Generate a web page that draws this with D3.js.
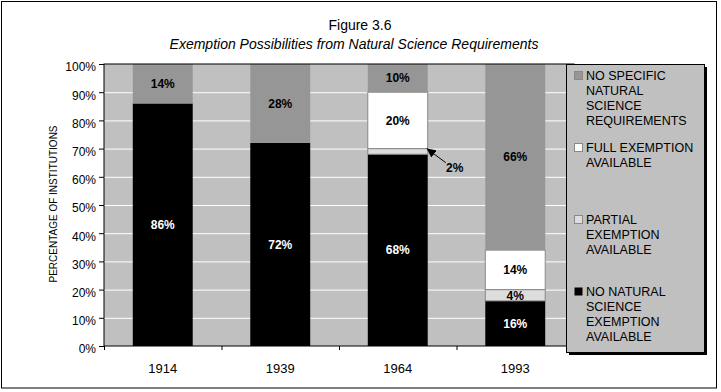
<!DOCTYPE html>
<html>
<head>
<meta charset="utf-8">
<script src="https://cdn.jsdelivr.net/npm/d3@7"></script>
<style>
  body { margin: 0; background: #fff; }
  text { font-family: "Liberation Sans", Arial, sans-serif; }
</style>
</head>
<body>
<div id="container"></div>
<script>
// Chart data
var years = ["1914", "1939", "1964", "1993"];
var noExemption = [0.86, 0.72, 0.68, 0.16];   // NO NATURAL SCIENCE EXEMPTION AVAILABLE
var partialExemption = [0, 0, 0.02, 0.04];    // PARTIAL EXEMPTION AVAILABLE
var fullExemption = [0, 0, 0.20, 0.14];       // FULL EXEMPTION AVAILABLE
var noSpecific = [0.14, 0.28, 0.10, 0.66];    // NO SPECIFIC NATURAL SCIENCE REQUIREMENTS
var yTicks = [0, 0.1, 0.2, 0.3, 0.4, 0.5, 0.6, 0.7, 0.8, 0.9, 1.0];

// stacking order, bottom to top
var series = [
  { key: "none", values: noExemption, fill: "#000000", stroke: "none", text: "#ffffff",
    label: ["NO NATURAL", "SCIENCE", "EXEMPTION", "AVAILABLE"] },
  { key: "partial", values: partialExemption, fill: "#dddddd", stroke: "#888888", text: "#000000",
    label: ["PARTIAL", "EXEMPTION", "AVAILABLE"] },
  { key: "full", values: fullExemption, fill: "#ffffff", stroke: "#888888", text: "#000000",
    label: ["FULL EXEMPTION", "AVAILABLE"] },
  { key: "nospec", values: noSpecific, fill: "#969696", stroke: "none", text: "#000000",
    label: ["NO SPECIFIC", "NATURAL", "SCIENCE", "REQUIREMENTS"] }
];

var width = 721, height = 392;
var plot = { left: 104, right: 574, top: 64, bottom: 346 };

var svg = d3.select("#container").append("svg")
  .attr("width", width)
  .attr("height", height);

svg.append("defs").append("marker")
  .attr("id", "arrow")
  .attr("viewBox", "0 0 10 10")
  .attr("refX", 10).attr("refY", 5)
  .attr("markerWidth", 9).attr("markerHeight", 9)
  .attr("markerUnits", "userSpaceOnUse")
  .attr("orient", "auto")
  .append("path")
  .attr("d", "M0,0 L10,5 L0,10 z")
  .attr("fill", "#000");

// outer frame
svg.append("rect")
  .attr("x", 1.5).attr("y", 1.5)
  .attr("width", 715).attr("height", 386.5)
  .attr("fill", "#fff").attr("stroke", "#000");

var x = d3.scaleBand().domain(years).range([plot.left, plot.right]).padding(0);
var y = d3.scaleLinear().domain([0, 1]).range([plot.bottom, plot.top]);
var barWidth = x.bandwidth() * 0.51;

// plot background
svg.append("rect")
  .attr("x", plot.left).attr("y", plot.top)
  .attr("width", plot.right - plot.left).attr("height", plot.bottom - plot.top)
  .attr("fill", "#c0c0c0");

// gridlines
svg.append("g").selectAll("line")
  .data(yTicks.slice(1, -1))
  .enter().append("line")
  .attr("x1", plot.left).attr("x2", plot.right)
  .attr("y1", function(d) { return y(d) + 0.5; })
  .attr("y2", function(d) { return y(d) + 0.5; })
  .attr("stroke", "#fff");

// build stacked segments
var segments = [];
years.forEach(function(yr, i) {
  var base = 0;
  series.forEach(function(s) {
    var v = s.values[i];
    if (v > 0) {
      segments.push({ year: yr, series: s, v0: base, v1: base + v, value: v, id: "seg" + i + s.key });
    }
    base += v;
  });
});

var bars = svg.append("g");
bars.selectAll("rect")
  .data(segments)
  .enter().append("rect")
  .attr("x", function(d) { return x(d.year) + (x.bandwidth() - barWidth) / 2; })
  .attr("y", function(d) { return y(d.v1); })
  .attr("width", barWidth)
  .attr("height", function(d) { return y(d.v0) - y(d.v1); })
  .attr("fill", function(d) { return d.series.fill; })
  .attr("stroke", function(d) { return d.series.stroke; });

// clip paths so labels stay inside their segment
var clips = svg.select("defs").selectAll("clipPath")
  .data(segments)
  .enter().append("clipPath")
  .attr("id", function(d) { return d.id; })
  .append("rect")
  .attr("x", function(d) { return x(d.year) + (x.bandwidth() - barWidth) / 2; })
  .attr("y", function(d) { return y(d.v1); })
  .attr("width", barWidth)
  .attr("height", function(d) { return y(d.v0) - y(d.v1); });

var fmt = d3.format(".0%");

svg.append("g").selectAll("text")
  .data(segments.filter(function(d) { return d.value >= 0.03; }))
  .enter().append("text")
  .attr("clip-path", function(d) { return "url(#" + d.id + ")"; })
  .attr("x", function(d) { return x(d.year) + x.bandwidth() / 2; })
  .attr("y", function(d) { return (y(d.v0) + y(d.v1)) / 2; })
  .attr("dy", "0.36em")
  .attr("text-anchor", "middle")
  .attr("font-size", "12px")
  .attr("font-weight", "bold")
  .attr("fill", function(d) { return d.series.text; })
  .text(function(d) { return fmt(d.value); });

// small segments get a pointer label beside the bar
segments.filter(function(d) { return d.value < 0.03; }).forEach(function(d) {
  var tipX = x(d.year) + (x.bandwidth() + barWidth) / 2 - 1;
  var tipY = y(d.v1);
  svg.append("line")
    .attr("x1", tipX + 19).attr("y1", tipY + 14)
    .attr("x2", tipX).attr("y2", tipY)
    .attr("stroke", "#000")
    .attr("marker-end", "url(#arrow)");
  svg.append("text")
    .attr("x", tipX + 28).attr("y", tipY + 23)
    .attr("text-anchor", "middle")
    .attr("font-size", "12px")
    .attr("font-weight", "bold")
    .text(fmt(d.value));
});

// plot frame
svg.append("rect")
  .attr("x", plot.left).attr("y", plot.top)
  .attr("width", plot.right - plot.left).attr("height", plot.bottom - plot.top)
  .attr("fill", "none").attr("stroke", "#000");

// y axis
var yAxis = svg.append("g")
  .attr("transform", "translate(" + plot.left + ",0)")
  .call(d3.axisLeft(y).tickValues(yTicks).tickFormat(fmt).tickSize(5).tickPadding(3));
yAxis.select(".domain").remove();
yAxis.selectAll("text")
  .attr("dy", "0.58em")
  .attr("font-size", "12px")
  .attr("font-family", "Liberation Sans, Arial, sans-serif")
  .attr("fill", "#000");

// x axis: labels centred, ticks on category boundaries
var xAxis = svg.append("g")
  .attr("transform", "translate(0," + plot.bottom + ")")
  .call(d3.axisBottom(x).tickSize(0).tickPadding(18));
xAxis.select(".domain").remove();
xAxis.selectAll("text")
  .attr("font-size", "13px")
  .attr("font-family", "Liberation Sans, Arial, sans-serif")
  .attr("fill", "#000");
var bounds = years.map(function(d) { return x(d); }).concat([plot.right]);
xAxis.selectAll(".bound")
  .data(bounds)
  .enter().append("line")
  .attr("class", "bound")
  .attr("x1", function(d) { return d + 0.5; })
  .attr("x2", function(d) { return d + 0.5; })
  .attr("y1", 0).attr("y2", 4)
  .attr("stroke", "#000");

// y axis title
svg.append("text")
  .attr("transform", "translate(57,204) rotate(-90)")
  .attr("text-anchor", "middle")
  .attr("font-size", "10px")
  .attr("fill", "#000")
  .text("PERCENTAGE OF INSTITUTIONS");

// titles
svg.append("text")
  .attr("x", 360).attr("y", 30)
  .attr("text-anchor", "middle")
  .attr("font-size", "14px")
  .text("Figure 3.6");
svg.append("text")
  .attr("x", 354).attr("y", 49)
  .attr("text-anchor", "middle")
  .attr("font-size", "14px")
  .attr("font-style", "italic")
  .text("Exemption Possibilities from Natural Science Requirements");

// legend with drop shadow
var legend = svg.append("g").attr("transform", "translate(566,64)");
legend.append("rect")
  .attr("x", 3).attr("y", 3).attr("width", 138).attr("height", 288)
  .attr("fill", "#000");
legend.append("rect")
  .attr("x", 0.5).attr("y", 0.5).attr("width", 138).attr("height", 288)
  .attr("fill", "#c0c0c0").attr("stroke", "#000");

var entries = series.slice().reverse();
entries.forEach(function(s, i) {
  var base = 16 + i * 72;
  legend.append("rect")
    .attr("x", 8.5).attr("y", base - 8.5)
    .attr("width", 8).attr("height", 8)
    .attr("fill", s.fill)
    .attr("stroke", s.fill === "#000000" ? "none" : "#888888");
  s.label.forEach(function(line, j) {
    legend.append("text")
      .attr("x", 20).attr("y", base + j * 15)
      .attr("font-size", "12.5px")
      .attr("fill", "#000")
      .text(line);
  });
});
</script>
</body>
</html>
